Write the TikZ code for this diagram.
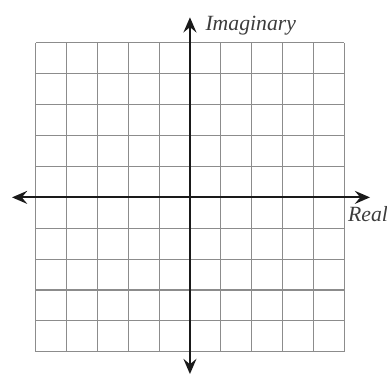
\documentclass[tikz,border=0pt]{standalone}
\usepackage{fontspec}
\setmainfont{Liberation Serif}
\usepackage{xcolor}
\usepackage{tikz}
\usetikzlibrary{arrows.meta,positioning}
\definecolor{cpInk}{HTML}{1A1A1A}
\definecolor{cpGrid}{HTML}{8C8C8C}
\tikzset{
  gridline/.style={draw=cpGrid,line width=0.5pt},
  axis/.style={<->,>={Stealth[length=7pt,width=6pt,inset=2.5pt]},line width=0.9pt,color=cpInk},
  axlbl/.style={font=\itshape,text=cpInk!85,inner sep=0pt},
}
\begin{document}
\begin{tikzpicture}[x=0.5cm,y=0.5cm]
  \useasboundingbox (-6.15,-5.82) rectangle (6.38,6.39);
  % grid of unit squares
  \foreach \k in {-5,...,5} {
    \draw[gridline] (\k,-5) -- (\k,5);
    \draw[gridline] (-5,\k) -- (5,\k);
  }

  \coordinate (west) at (-5.76,0);
  \coordinate (east) at (5.83,0);
  \coordinate (south) at (0,-5.72);
  \coordinate (north) at (0,5.83);

  \draw[axis] (west) -- (east);
  \draw[axis] (south) -- (north);

  \node[axlbl,anchor=west] (im) at (0.49,5.57) {Imaginary};
  \node[axlbl,anchor=west] (re) at (5.11,-0.53) {Real};
\end{tikzpicture}
\end{document}
